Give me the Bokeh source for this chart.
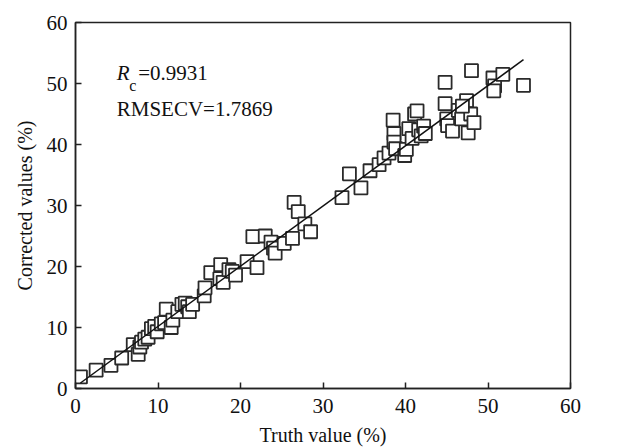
from bokeh.plotting import figure
from bokeh.models import Label, ColumnDataSource, FixedTicker
from bokeh.embed import file_html
from bokeh.resources import INLINE

truth = [0.6, 2.5, 4.3, 5.6, 7.0, 7.6, 7.8, 8.0, 8.4, 8.8, 9.2, 9.6, 9.9, 10.4, 10.8,
         11.0, 11.6, 11.8, 12.4, 12.9, 13.3, 13.6, 13.8, 14.2, 15.6, 15.7, 16.4, 17.6,
         17.5, 17.9, 18.6, 19.0, 19.4, 20.8, 21.5, 22.0, 23.0, 23.7, 24.0, 24.2, 25.3,
         26.3, 26.5, 27.0, 27.8, 28.5,
         32.3, 33.2, 34.6, 35.7, 36.8, 37.4, 38.0, 38.5, 38.6, 38.6, 38.8, 39.9, 40.1,
         40.4, 40.8, 41.1, 41.4, 41.6, 41.9, 42.2, 42.4,
         44.8, 44.8, 45.0, 45.1, 45.7, 46.4, 46.8, 47.4, 47.6, 47.9, 48.3, 48.0, 46.9,
         50.6, 50.8, 50.7, 51.8, 54.3]
corrected = [1.9, 3.0, 3.8, 5.0, 7.2, 5.6, 6.8, 7.6, 8.1, 8.4, 9.8, 10.2, 9.3, 10.6, 10.8,
             13.0, 10.0, 11.2, 12.6, 13.8, 14.0, 13.4, 12.6, 13.8, 15.2, 16.5, 19.0, 20.3,
             18.0, 17.4, 19.5, 19.2, 18.6, 20.8, 24.9, 19.8, 25.0, 24.0, 23.0, 22.2, 23.8,
             24.6, 30.5, 29.0, 27.0, 25.7,
             31.3, 35.2, 32.9, 35.7, 36.7, 37.8, 38.6, 44.0, 41.8, 40.4, 39.3, 38.2, 39.2,
             42.6, 41.0, 45.0, 45.5, 42.4, 41.4, 43.0, 41.8,
             50.2, 46.7, 44.2, 43.1, 42.2, 45.6, 44.2, 47.2, 41.9, 45.0, 43.6, 52.1, 46.3,
             50.9, 49.6, 48.8, 51.5, 49.7]

fit_x = [0.6, 54.3]
fit_y = [0.9, 53.9]

ticks = [0, 10, 20, 30, 40, 50, 60]
rc_text = "=0.9931"
rmse_text = "RMSECV=1.7869"

FONT = "Liberation Serif"

p = figure(width=623, height=448, x_range=(0, 60), y_range=(0, 60),
           output_backend="svg", toolbar_location=None,
           min_border_left=75, min_border_right=53, min_border_top=22, min_border_bottom=60)
p.background_fill_color = "white"
p.border_fill_color = "white"
p.grid.visible = False
p.outline_line_color = "#222222"
p.outline_line_width = 1.5

for ax in (p.xaxis[0], p.yaxis[0]):
    ax.ticker = FixedTicker(ticks=ticks)
    ax.major_tick_in = 6
    ax.major_tick_out = 0
    ax.minor_tick_in = 0
    ax.minor_tick_out = 0
    ax.axis_line_color = "#222222"
    ax.axis_line_width = 1.5
    ax.major_tick_line_color = "#222222"
    ax.major_tick_line_width = 1.5
    ax.major_label_text_font = FONT
    ax.major_label_text_font_size = "21px"
    ax.major_label_text_color = "#111111"
    ax.axis_label_text_font = FONT
    ax.axis_label_text_font_size = "20px"
    ax.axis_label_text_font_style = "normal"
    ax.axis_label_text_color = "#111111"

p.xaxis.axis_label = "Truth value (%)"
p.yaxis.axis_label = "Corrected values (%)"
p.xaxis.major_label_standoff = 10
p.yaxis.major_label_standoff = 8
p.xaxis.axis_label_standoff = 8
p.yaxis.axis_label_standoff = 8

src = ColumnDataSource(dict(x=truth, y=corrected))
p.scatter("x", "y", source=src, marker="square", size=13, fill_color="white",
          line_color="#2a2a2a", line_width=1.8)
p.line(fit_x, fit_y, line_color="#111111", line_width=1.5)

p.add_layout(Label(x=5.0, y=51.8, text="R", text_font=FONT, text_font_style="italic",
                   text_font_size="21px", text_baseline="middle", text_color="#111111"))
p.add_layout(Label(x=6.5, y=49.6, text="c", text_font=FONT,
                   text_font_size="16px", text_baseline="middle", text_color="#111111"))
p.add_layout(Label(x=7.6, y=51.8, text=rc_text, text_font=FONT,
                   text_font_size="21px", text_baseline="middle", text_color="#111111"))
p.add_layout(Label(x=5.0, y=45.9, text=rmse_text, text_font=FONT,
                   text_font_size="21px", text_baseline="middle", text_color="#111111"))

open("out.html", "w").write(file_html(p, INLINE))
